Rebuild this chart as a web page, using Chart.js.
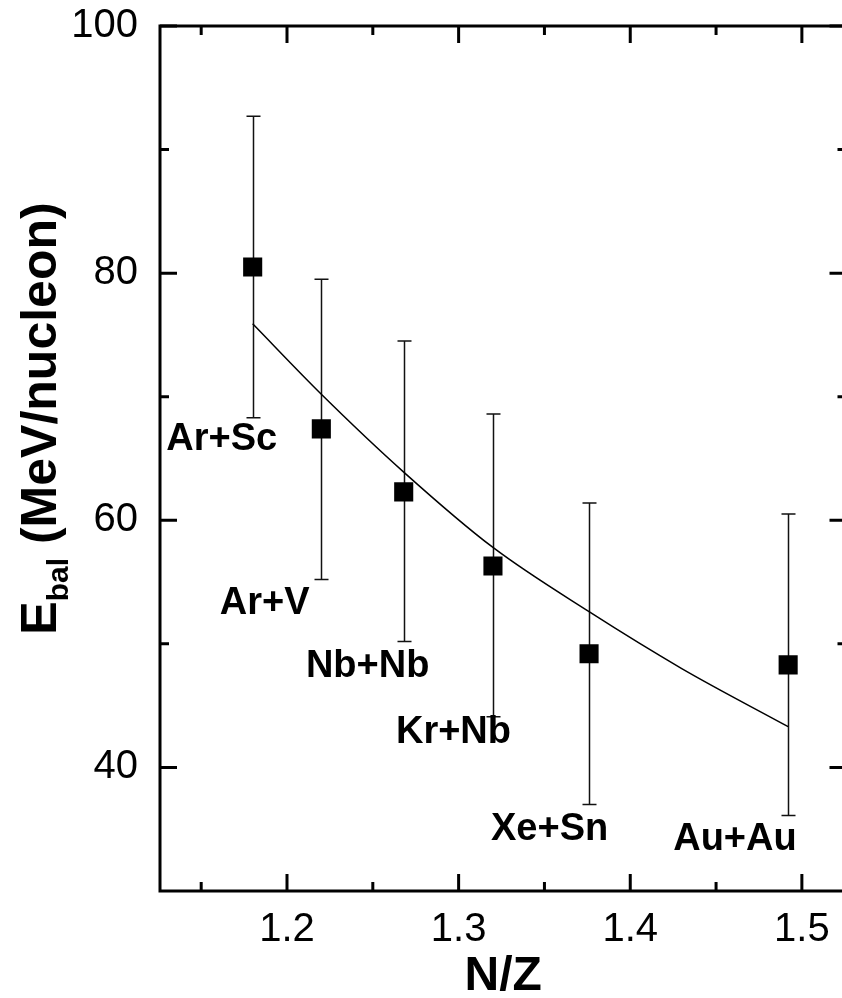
<!DOCTYPE html>
<html>
<head>
<meta charset="utf-8">
<script src="https://cdn.jsdelivr.net/npm/chart.js@4"></script>
<style>
  html, body { margin: 0; padding: 0; background: #fff; overflow: hidden; }
  #wrap { position: absolute; left: 0; top: 0; width: 842px; height: 998px; overflow: hidden; }
  #chart { display: block; }
</style>
</head>
<body>
<div id="wrap"><canvas id="chart" width="860" height="998"></canvas></div>
<script>
const systems = ["Ar+Sc", "Ar+V", "Nb+Nb", "Kr+Nb", "Xe+Sn", "Au+Au"];
const nz = [1.18, 1.22, 1.268, 1.32, 1.376, 1.492];
const ebal = [80.5, 67.4, 62.3, 56.3, 49.2, 48.3];
const errUp = [12.2, 12.1, 12.2, 12.3, 12.2, 12.2];
const errDown = [12.2, 12.2, 12.1, 12.2, 12.2, 12.2];

// fitted curve
const fitX = [1.18, 1.22, 1.268, 1.32, 1.376, 1.43, 1.492];
const fitY = [75.9, 70.2, 63.9, 57.8, 52.6, 48.0, 43.3];

// label anchors for the system names (data units)
const nameX = [1.162, 1.187, 1.247, 1.297, 1.353, 1.461];
const nameY = [66.5, 53.3, 48.2, 42.8, 35.0, 34.2];

const xMajor = [1.2, 1.3, 1.4, 1.5];
const xMinor = [1.15, 1.25, 1.35, 1.45];
const yMajor = [40, 60, 80, 100];
const yMinor = [50, 70, 90];

const FONT = "'Liberation Sans', Arial, sans-serif";

const framePlugin = {
    id: "frame",
    beforeDatasetsDraw(chart) {
        const { ctx, scales: { x, y } } = chart;
        ctx.save();
        ctx.strokeStyle = "#111";
        ctx.lineWidth = 1.5;
        nz.forEach((v, i) => {
            const px = Math.round(x.getPixelForValue(v)) + 0.5;
            const top = y.getPixelForValue(ebal[i] + errUp[i]);
            const bot = y.getPixelForValue(ebal[i] - errDown[i]);
            ctx.beginPath();
            ctx.moveTo(px, top); ctx.lineTo(px, bot);
            ctx.moveTo(px - 7, top); ctx.lineTo(px + 7, top);
            ctx.moveTo(px - 7, bot); ctx.lineTo(px + 7, bot);
            ctx.stroke();
        });
        ctx.restore();
    },
    afterDraw(chart) {
        const { ctx, chartArea: a, scales: { x, y } } = chart;
        ctx.save();
        ctx.strokeStyle = "#000";
        ctx.lineWidth = 3;
        // left, bottom and top axis lines (right one falls off the picture)
        ctx.beginPath();
        ctx.moveTo(a.right + 10, a.top);
        ctx.lineTo(a.left, a.top);
        ctx.lineTo(a.left, a.bottom);
        ctx.lineTo(a.right + 10, a.bottom);
        ctx.stroke();

        // inward ticks on all four sides
        const tick = (vals, len) => {
            vals.forEach(v => {
                const px = x.getPixelForValue(v);
                ctx.beginPath();
                ctx.moveTo(px, a.bottom); ctx.lineTo(px, a.bottom - len);
                ctx.moveTo(px, a.top); ctx.lineTo(px, a.top + len);
                ctx.stroke();
            });
        };
        const ytick = (vals, len) => {
            vals.forEach(v => {
                const py = y.getPixelForValue(v);
                ctx.beginPath();
                ctx.moveTo(a.left, py); ctx.lineTo(a.left + len, py);
                ctx.moveTo(a.right, py); ctx.lineTo(a.right - len, py);
                ctx.stroke();
            });
        };
        tick(xMajor, 17); tick(xMinor, 9);
        ytick(yMajor, 17); ytick(yMinor, 9);

        // system names
        ctx.fillStyle = "#000";
        ctx.font = "bold 38px " + FONT;
        ctx.textAlign = "center";
        ctx.textBaseline = "middle";
        systems.forEach((s, i) => {
            ctx.fillText(s, x.getPixelForValue(nameX[i]), y.getPixelForValue(nameY[i]));
        });

        // x title
        ctx.font = "bold 48px " + FONT;
        ctx.textBaseline = "alphabetic";
        ctx.fillText("N/Z", (a.left + a.right) / 2, 990);

        // y title with subscript
        ctx.translate(56, (a.top + a.bottom) / 2 - 40);
        ctx.rotate(-Math.PI / 2);
        ctx.textAlign = "left";
        const big = "bold 50px " + FONT, small = "bold 30px " + FONT;
        ctx.font = big;
        const wE = ctx.measureText("E").width;
        const wRest = ctx.measureText(" (MeV/nucleon)").width;
        ctx.font = small;
        const wSub = ctx.measureText("bal").width;
        let cx = -(wE + wSub + wRest) / 2;
        ctx.font = big;
        ctx.fillText("E", cx, 0);
        cx += wE;
        ctx.font = small;
        ctx.fillText("bal", cx, 12);
        cx += wSub;
        ctx.font = big;
        ctx.fillText(" (MeV/nucleon)", cx, 0);
        ctx.restore();
    }
};

new Chart(document.getElementById("chart"), {
    type: "scatter",
    data: {
        datasets: [
            {
                type: "line",
                data: fitX.map((v, i) => ({ x: v, y: fitY[i] })),
                borderColor: "#000",
                borderWidth: 1.5,
                pointRadius: 0,
                cubicInterpolationMode: "monotone",
                fill: false
            },
            {
                data: nz.map((v, i) => ({ x: v, y: ebal[i] })),
                pointStyle: "rect",
                pointRadius: 13.5,
                pointHoverRadius: 13.5,
                backgroundColor: "#000",
                borderColor: "#000",
                borderWidth: 0
            }
        ]
    },
    options: {
        responsive: false,
        animation: false,
        events: [],
        layout: { padding: { top: 26, right: 12, left: 0, bottom: 0 } },
        plugins: { legend: { display: false }, tooltip: { enabled: false } },
        scales: {
            x: {
                type: "linear",
                min: 1.126,
                max: 1.526,
                grid: { display: false, drawTicks: false },
                border: { display: false },
                afterBuildTicks: s => { s.ticks = xMajor.map(v => ({ value: v })); },
                afterFit: s => {
                    s.height = 107;
                    s.paddingLeft = 0;
                    s.paddingRight = 0;
                },
                ticks: {
                    padding: 15,
                    color: "#000",
                    font: { family: FONT, size: 40 },
                    callback: v => v.toFixed(1)
                }
            },
            y: {
                type: "linear",
                min: 30,
                max: 100,
                grid: { display: false, drawTicks: false },
                border: { display: false },
                afterBuildTicks: s => { s.ticks = yMajor.map(v => ({ value: v })); },
                afterFit: s => {
                    s.width = 160;
                    s.paddingTop = 0;
                    s.paddingBottom = 0;
                },
                ticks: {
                    padding: 22,
                    color: "#000",
                    font: { family: FONT, size: 40 }
                }
            }
        }
    },
    plugins: [framePlugin]
});
</script>
</body>
</html>
